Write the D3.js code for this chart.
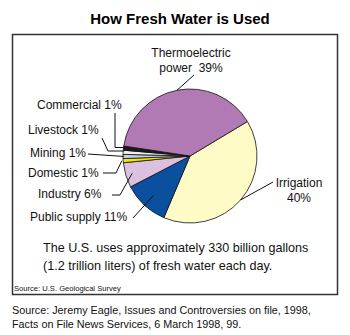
<!DOCTYPE html>
<html><head><meta charset="utf-8">
<script src="https://cdn.jsdelivr.net/npm/d3@7"></script>
<style>body{margin:0;background:#fff;} svg{display:block;font-family:"Liberation Sans",Arial,sans-serif;}</style>
</head><body>
<svg id="c" width="350" height="335"></svg>
<script>
const categories = ["Irrigation","Public supply","Industry","Domestic","Mining","Livestock","Commercial","Thermoelectric power"];
const values = [40,11,6,1,1,1,1,39];
const colors = ["#fefbc6","#0b4f9f","#dcc0e0","#f2e600","#c6d2ee","#eeeeee","#1a1a1a","#b27ab4"];
const labelLines = [["Irrigation","40%"],["Public supply 11%"],["Industry 6%"],["Domestic 1%"],["Mining 1%"],["Livestock 1%"],["Commercial 1%"],["Thermoelectric","power  39%"]];

const svg = d3.select("#c");
const cx = 190, cy = 156, r = 67;

svg.append("text").attr("x",180).attr("y",24).attr("text-anchor","middle")
  .attr("font-size",15).attr("font-weight","bold").text("How Fresh Water is Used");

svg.append("rect").attr("x",12.5).attr("y",34.5).attr("width",325).attr("height",260)
  .attr("fill","none").attr("stroke","#333").attr("stroke-width",1.5);

const data = categories.map((c,i)=>({cat:c,value:values[i],color:colors[i],lines:labelLines[i]}));
const pie = d3.pie().sort(null).value(d=>d.value).startAngle(59*Math.PI/180).endAngle(419*Math.PI/180);
const arcs = pie(data);
const arc = d3.arc().innerRadius(0).outerRadius(r);
const g = svg.append("g").attr("transform",`translate(${cx},${cy})`);
g.selectAll("path").data(arcs).join("path").attr("d",arc)
  .attr("fill",d=>d.data.color).attr("stroke","#111").attr("stroke-width",0.8);

// point on arc at fraction t of angle, radius rr
function pt(a, rr){ const m=(a.startAngle+a.endAngle)/2; return [cx+Math.sin(m)*rr, cy-Math.cos(m)*rr]; }

const lab = svg.append("g").attr("font-size",12).attr("fill","#111");
const leader = svg.append("g").attr("fill","none").attr("stroke","#111").attr("stroke-width",1);

// label placement: [x, baseline y, anchor], leader polyline (start points) then to arc point at radius
const place = {
  "Irrigation": {x:299,y:187,anchor:"middle",path:[[273,182]],rr:r},
  "Public supply": {x:30,y:221,anchor:"start",path:[[133,218]],rr:r*0.8},
  "Industry": {x:38,y:198,anchor:"start",path:[[112,195],[120,195]],rr:r*0.9},
  "Domestic": {x:28,y:177,anchor:"start",path:[[103,173],[116,173]],rr:r*1.02},
  "Mining": {x:30,y:157,anchor:"start",path:[[88,154]],rr:r},
  "Livestock": {x:28,y:134,anchor:"start",path:[[102,138],[108,151]],rr:r},
  "Commercial": {x:37,y:109,anchor:"start",path:[[115,113],[115,147.5]],rr:r},
  "Thermoelectric power": {x:191,y:57,anchor:"middle",path:[[194,75]],rr:r}
};

arcs.forEach(a=>{
  const p = place[a.data.cat];
  const t = lab.append("text").attr("text-anchor",p.anchor);
  a.data.lines.forEach((ln,i)=>{
    t.append("tspan").attr("x",p.x).attr("y",p.y+i*15).style("white-space","pre").text(ln);
  });
  let end = pt(a,p.rr);
  if (a.data.cat==="Commercial" || a.data.cat==="Livestock" || a.data.cat==="Mining") end=[end[0]+1,end[1]];
  const pts = p.path.concat([end]);
  if (a.data.cat==="Commercial"||a.data.cat==="Livestock") pts[pts.length-1]=[end[0], pts[pts.length-2][1]];
  leader.append("path").attr("d",d3.line()(pts));
});

svg.append("g").attr("font-size",12.6).attr("fill","#111").selectAll("text")
  .data(["The U.S. uses approximately 330 billion gallons","(1.2 trillion liters) of fresh water each day."])
  .join("text").attr("x",43).attr("y",(d,i)=>252+i*18).text(d=>d);

svg.append("text").attr("x",14).attr("y",291).attr("font-size",7.6).attr("fill","#111")
  .text("Source: U.S. Geological Survey");

svg.append("g").attr("font-size",10.8).attr("fill","#111").selectAll("text")
  .data(["Source: Jeremy Eagle, Issues and Controversies on file, 1998,","Facts on File News Services, 6 March 1998, 99."])
  .join("text").attr("x",12).attr("y",(d,i)=>314+i*14).text(d=>d);
</script>
</body></html>
